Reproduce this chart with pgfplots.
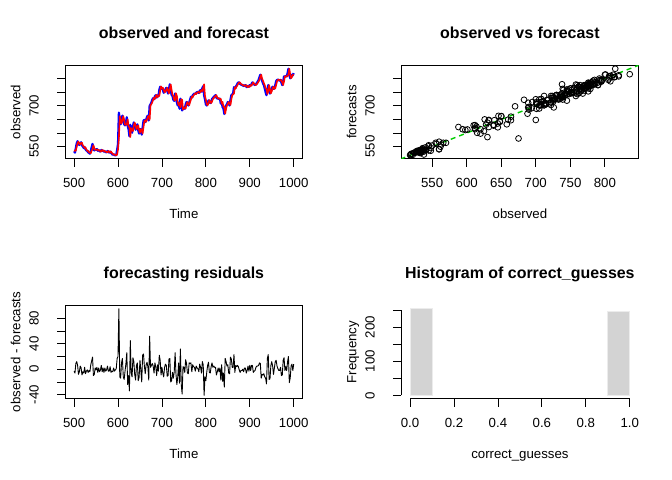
\documentclass[border=0pt]{standalone}
\usepackage{pgfplots}
\pgfplotsset{compat=1.18}
\usepackage{pgfplotstable}
\usepackage{fontspec}
\setmainfont{Liberation Sans}
\definecolor{rgreen}{HTML}{00CD00}
\definecolor{rlightgray}{HTML}{D3D3D3}

\pgfplotstableread{
t obs fc res
500 533 536 -3
502 528 534 -6
504 545 536 9
506 562 550 12
508 570 564 6
510 560 568 -8
512 556 560 -4
514 563 558 5
516 566 564 2
518 555 564 -9
520 550 554 -4
522 545 551 -6
524 548 545 3
526 540 547 -7
528 536 539 -3
530 534 535 -1
532 529 534 -5
534 527 529 -2
536 524 528 -4
538 533 526 7
540 548 535 13
542 560 541 19
544 545 555 -10
546 536 544 -8
548 540 538 2
550 538 539 -1
552 541 538 3
554 535 540 -5
556 537 535 2
558 533 537 -4
560 532 533 -1
562 538 532 6
564 534 538 -4
566 536 534 2
568 531 536 -5
570 533 531 2
572 530 533 -3
574 529 530 -1
576 534 529 5
578 531 534 -3
580 528 531 -3
582 532 528 4
584 527 532 -5
586 524 527 -3
588 520 524 -4
590 522 520 2
592 519 522 -3
594 518 519 -1
596 519 518 1
598 538 521 17
600 560 540 20
602 675 580 95
604 650 662 -12
606 632 646 -14
608 645 635 10
610 664 647 17
612 650 662 -12
614 632 648 -16
616 628 631 -3
618 639 630 9
620 658 632 26
622 626 650 -24
624 614 624 -10
626 588 622 -34
628 630 585 45
630 612 618 -6
632 601 613 -12
634 625 607 18
636 639 627 12
638 630 638 -8
640 612 629 -17
642 620 614 6
644 632 622 10
646 610 628 -18
648 598 611 -13
650 615 601 14
652 612 614 -2
654 594 614 -20
656 620 598 22
658 645 621 24
660 648 643 5
662 640 647 -7
664 648 641 7
666 660 649 11
668 664 660 4
670 646 663 -17
672 700 648 52
674 705 702 3
676 712 706 6
678 722 713 9
680 728 723 5
682 724 730 -6
684 735 725 10
686 739 735 4
688 730 740 -10
690 738 731 7
692 735 738 -3
694 758 736 22
696 770 756 14
698 762 771 -9
700 766 763 3
702 760 766 -6
704 748 760 -12
706 752 749 3
708 760 752 8
710 766 760 6
712 755 766 -11
714 745 755 -10
716 762 746 16
718 779 762 17
720 758 778 -20
722 740 758 -18
724 736 741 -5
726 722 736 -14
728 718 722 -4
730 745 719 26
732 738 746 -8
734 712 736 -24
736 701 713 -12
738 712 702 10
740 689 711 -22
742 726 694 32
744 700 724 -24
746 683 722 -39
748 690 686 4
750 694 691 3
752 689 694 -5
754 705 690 15
756 714 705 9
758 708 714 -6
760 701 708 -7
762 712 702 10
764 722 713 9
766 733 723 10
768 730 734 -4
770 738 731 7
772 742 738 4
774 745 742 3
776 743 746 -3
778 748 743 5
780 750 748 2
782 751 750 1
784 747 751 -4
786 755 747 8
788 758 755 3
790 752 758 -6
792 765 753 12
794 772 765 7
796 738 779 -41
798 724 736 -12
800 705 723 -18
802 701 706 -5
804 708 702 6
806 720 709 11
808 716 721 -5
810 710 716 -6
812 714 710 4
814 725 715 10
816 728 725 3
818 733 728 5
820 736 733 3
822 739 736 3
824 730 739 -9
826 726 730 -4
828 728 726 2
830 724 728 -4
832 726 724 2
834 708 725 -17
836 715 708 7
838 695 714 -19
840 690 696 -6
842 670 698 -28
844 688 671 17
846 701 689 12
848 706 701 5
850 714 707 7
852 708 714 -6
854 701 708 -7
856 722 703 19
858 739 723 16
860 742 739 3
862 745 742 3
864 768 745 23
866 763 768 -5
868 770 764 6
870 775 771 4
872 782 776 6
874 786 782 4
876 785 786 -1
878 780 785 -5
880 778 780 -2
882 776 778 -2
884 776 776 0
886 772 776 -4
888 774 772 2
890 776 774 2
892 770 776 -6
894 768 770 -2
896 773 768 5
898 770 773 -3
900 776 770 6
902 774 776 -2
904 780 774 6
906 786 780 6
908 781 786 -5
910 778 781 -3
912 776 778 -2
914 779 776 3
916 784 779 5
918 789 784 5
920 795 789 6
922 805 795 10
924 814 805 9
926 800 814 -14
928 792 800 -8
930 783 792 -9
932 776 783 -7
934 764 776 -12
936 750 764 -14
938 739 762 -23
940 760 743 17
942 776 753 23
944 760 776 -16
946 745 760 -15
948 752 746 6
950 765 753 12
952 770 765 5
954 762 770 -8
956 764 762 2
958 776 764 12
960 790 776 14
962 795 790 5
964 796 795 1
966 794 796 -2
968 792 794 -2
970 795 792 3
972 785 795 -10
974 776 785 -9
976 790 776 14
978 808 790 18
980 806 808 -2
982 810 806 4
984 808 810 -2
986 820 808 12
988 836 816 20
990 815 836 -21
992 801 815 -14
994 806 801 5
996 814 806 8
998 812 814 -2
1000 820 812 8
}\datatable

\pgfplotsset{
  every axis title/.style={at={(0.5,1.2845)}, anchor=base, font=\bfseries\fontsize{16}{19}\selectfont},
  rbase/.style={
    scale only axis, width=237.2bp, height=93.5bp, anchor=south west,
    axis line style={line width=0.8bp, black},
    every tick/.style={line width=0.8bp, black},
    tick align=outside, tick pos=left, major tick length=8bp,
    tick label style={font=\fontsize{13.3}{16}\selectfont},
    xticklabel style={anchor=center}, xticklabel shift=16.2bp,
    yticklabel style={rotate=90, anchor=center}, yticklabel shift=23.3bp,
    label style={font=\fontsize{13.3}{16}\selectfont},
    xlabel style={anchor=base, at={(axis description cs:0.5,-0.6417)}},
    ylabel style={anchor=base, at={(axis description cs:-0.189,0.5)}},
    scaled ticks=false,
  }
}

\begin{document}
\begin{tikzpicture}
\useasboundingbox (0bp,0bp) rectangle (672bp,480bp);
% panel 1
\begin{axis}[rbase, at={(65.3bp,321.2bp)},
  xmin=480, xmax=1020, ymin=505.3, ymax=848.7,
  xtick={500,600,700,800,900,1000}, xticklabels={500,600,700,800,900,1000},
  ytick={550,600,650,700,750,800}, yticklabels={550,,,700,,},
  title={observed and forecast}, xlabel={Time}, ylabel={observed}]
\addplot[blue, line width=2.2bp, line join=round] table[x=t, y=obs]{\datatable};
\addplot[red, line width=1.6bp, line join=round] table[x=t, y=fc]{\datatable};
\end{axis}
% panel 2
\begin{axis}[rbase, at={(401.3bp,321.2bp)},
  xmin=505.3, xmax=848.7, ymin=505.3, ymax=848.7,
  xtick={550,600,650,700,750,800}, xticklabels={550,600,650,700,750,800},
  ytick={550,600,650,700,750,800}, yticklabels={550,,,700,,},
  title={observed vs forecast}, xlabel={observed}, ylabel={forecasts}]
\addplot[only marks, mark=o, mark size=2.9bp, mark options={line width=0.8bp, black}] table[x=obs, y=fc]{\datatable};
\addplot[rgreen, line width=1.4bp, dash pattern=on 5bp off 4bp] coordinates {(480,480) (870,870)};
\end{axis}
% panel 3
\begin{axis}[rbase, at={(65.3bp,81.2bp)},
  xmin=480, xmax=1020, ymin=-46.44, ymax=100.44,
  xtick={500,600,700,800,900,1000}, xticklabels={500,600,700,800,900,1000},
  ytick={-40,-20,0,20,40,60,80}, yticklabels={-40,,0,,40,,80},
  title={forecasting residuals}, xlabel={Time}, ylabel={observed - forecasts}]
\addplot[black, line width=0.9bp, line join=round] table[x=t, y=res]{\datatable};
\end{axis}
% panel 4
\begin{axis}[rbase, at={(401.3bp,81.2bp)}, clip=false,
  axis lines*=left, axis line style={draw=none},
  xmin=-0.04, xmax=1.04, ymin=-10.16, ymax=264.16,
  xtick={0,0.2,0.4,0.6,0.8,1.0}, xticklabels={0.0,0.2,0.4,0.6,0.8,1.0},
  ytick={0,50,100,150,200,250}, yticklabels={0,,100,,200,},
  title={Histogram of correct\_guesses}, xlabel={correct\_guesses}, ylabel={Frequency}]
\addplot[fill=rlightgray, draw={rgb,255:red,236;green,236;blue,236}, line width=0.8bp] coordinates {(0,0) (0,254) (0.1,254) (0.1,0)} -- cycle;
\addplot[fill=rlightgray, draw={rgb,255:red,236;green,236;blue,236}, line width=0.8bp] coordinates {(0.9,0) (0.9,246) (1.0,246) (1.0,0)} -- cycle;
\draw[line width=0.8bp, black] (axis cs:0,-10.16) -- (axis cs:1,-10.16);
\draw[line width=0.8bp, black] (axis cs:-0.04,0) -- (axis cs:-0.04,250);
\end{axis}
\end{tikzpicture}
\end{document}
